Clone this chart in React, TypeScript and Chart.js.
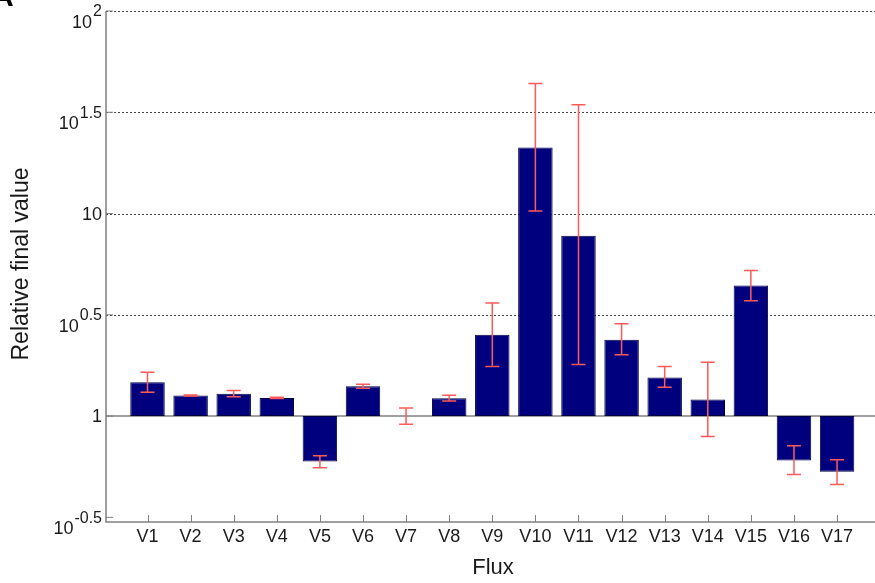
import React, { useEffect, useRef } from "react";
import { Chart, registerables } from "chart.js";

Chart.register(...registerables);

const categories = ["V1", "V2", "V3", "V4", "V5", "V6", "V7", "V8", "V9", "V10", "V11", "V12", "V13", "V14", "V15", "V16", "V17"];
const values = [1.469, 1.262, 1.291, 1.23, 0.596, 1.403, 1.0, 1.225, 2.52, 21.2, 7.78, 2.38, 1.552, 1.208, 4.41, 0.604, 0.531];
const errLow = [1.312, 1.255, 1.245, 1.222, 0.556, 1.371, 0.912, 1.186, 1.758, 10.3, 1.8, 2.01, 1.387, 0.792, 3.71, 0.515, 0.46];
const errHigh = [1.644, 1.27, 1.337, 1.24, 0.637, 1.435, 1.096, 1.268, 3.62, 43.9, 34.4, 2.86, 1.758, 1.845, 5.24, 0.713, 0.608];

const yTickValues = [Math.pow(10, -0.5), 1, Math.pow(10, 0.5), 10, Math.pow(10, 1.5), 100];
const yTickBase = ["10", "1", "10", "10", "10", "10"];
const yTickSup = ["-0.5", "", "0.5", "", "1.5", "2"];

const xTitle = "Flux";
const yTitle = "Relative final value";

const FONT = "'Liberation Sans', Arial, sans-serif";
const TEXT = "#1a1a1a";
const AXIS = "#808080";

const decor = {
  id: "decor",
  beforeDatasetsDraw(chart: any) {
    const { ctx, chartArea, scales } = chart;
    const y = scales.y;
    ctx.save();
    ctx.strokeStyle = "#444";
    ctx.lineWidth = 1;
    ctx.setLineDash([2, 2]);
    yTickValues.forEach((v, i) => {
      if (i < 2) return;
      const py = Math.round(y.getPixelForValue(v)) + 0.5;
      ctx.beginPath();
      ctx.moveTo(chartArea.left, py);
      ctx.lineTo(chartArea.right, py);
      ctx.stroke();
    });
    ctx.setLineDash([]);
    const by = y.getPixelForValue(1);
    ctx.strokeStyle = AXIS;
    ctx.lineWidth = 1.5;
    ctx.beginPath();
    ctx.moveTo(chartArea.left, by);
    ctx.lineTo(chartArea.right, by);
    ctx.stroke();
    ctx.restore();
  },
  afterDatasetsDraw(chart: any) {
    const { ctx, chartArea, scales } = chart;
    const x = scales.x;
    const y = scales.y;
    ctx.save();
    // error bars
    ctx.strokeStyle = "#ff5a5a";
    ctx.lineWidth = 1.5;
    const cap = 7;
    categories.forEach((_, i) => {
      const px = x.getPixelForValue(i + 1);
      const pl = y.getPixelForValue(errLow[i]);
      const ph = y.getPixelForValue(errHigh[i]);
      ctx.beginPath();
      ctx.moveTo(px, pl);
      ctx.lineTo(px, ph);
      ctx.moveTo(px - cap, pl);
      ctx.lineTo(px + cap, pl);
      ctx.moveTo(px - cap, ph);
      ctx.lineTo(px + cap, ph);
      ctx.stroke();
    });
    // axes
    ctx.strokeStyle = AXIS;
    ctx.lineWidth = 1.5;
    ctx.beginPath();
    ctx.moveTo(chartArea.left, chartArea.top);
    ctx.lineTo(chartArea.left, chartArea.bottom);
    ctx.lineTo(chartArea.right, chartArea.bottom);
    ctx.stroke();
    ctx.lineWidth = 1;
    categories.forEach((_, i) => {
      const px = Math.round(x.getPixelForValue(i + 1)) + 0.5;
      ctx.beginPath();
      ctx.moveTo(px, chartArea.bottom);
      ctx.lineTo(px, chartArea.bottom - 7);
      ctx.stroke();
    });
    yTickValues.forEach((v) => {
      const py = y.getPixelForValue(v);
      ctx.beginPath();
      ctx.moveTo(chartArea.left, py);
      ctx.lineTo(chartArea.left + 7, py);
      ctx.stroke();
    });
    // x labels
    ctx.fillStyle = TEXT;
    ctx.font = `18px ${FONT}`;
    ctx.textAlign = "center";
    ctx.textBaseline = "middle";
    categories.forEach((c, i) => {
      ctx.fillText(c, x.getPixelForValue(i + 1), chartArea.bottom + 15);
    });
    // y labels
    const right = chartArea.left - 4;
    yTickValues.forEach((v, i) => {
      const py = y.getPixelForValue(v);
      ctx.textAlign = "right";
      ctx.textBaseline = "middle";
      if (yTickSup[i]) {
        ctx.font = `16px ${FONT}`;
        const w = ctx.measureText(yTickSup[i]).width;
        ctx.fillText(yTickSup[i], right, py + 1);
        ctx.font = `18px ${FONT}`;
        ctx.fillText(yTickBase[i], right - w - 1, py + 12);
      } else {
        ctx.font = `18px ${FONT}`;
        ctx.fillText(yTickBase[i], right, py + 1);
      }
    });
    // titles
    ctx.font = `22px ${FONT}`;
    ctx.textAlign = "center";
    ctx.textBaseline = "middle";
    ctx.fillText(xTitle, 493, 568);
    ctx.save();
    ctx.translate(22, 264);
    ctx.rotate(-Math.PI / 2);
    ctx.font = `23px ${FONT}`;
    ctx.fillText(yTitle, 0, 0);
    ctx.restore();
    ctx.font = `bold 30px ${FONT}`;
    ctx.textAlign = "left";
    ctx.textBaseline = "alphabetic";
    ctx.fillStyle = "#000";
    ctx.fillText("A", -8, 6);
    ctx.restore();
  },
};

export default function App() {
  const ref = useRef<HTMLCanvasElement | null>(null);
  useEffect(() => {
    document.body.style.margin = "0";
    const canvas = ref.current;
    if (!canvas) return;
    const chart = new Chart(canvas, {
      type: "bar",
      data: {
        datasets: [
          {
            data: values.map((v, i) => ({ x: i + 1, y: [1, v] })) as any,
            backgroundColor: "#00007f",
            borderColor: "#000040",
            borderWidth: 1,
            borderSkipped: false,
            categoryPercentage: 0.8,
            barPercentage: 1,
          },
        ],
      },
      options: {
        animation: false,
        responsive: false,
        maintainAspectRatio: false,
        layout: { padding: { left: 106, top: 11, right: 0, bottom: 61 } },
        plugins: { legend: { display: false }, tooltip: { enabled: false } },
        scales: {
          x: { type: "linear", min: 0.037, max: 17.88, offset: false, display: false },
          y: { type: "logarithmic", min: Math.pow(10, -0.5), max: 100, display: false },
        },
      },
      plugins: [decor],
    });
    return () => chart.destroy();
  }, []);
  return (
    <div style={{ position: "absolute", left: 0, top: 0, width: 875, height: 583, background: "#fff" }}>
      <canvas ref={ref} width={875} height={583} style={{ width: 875, height: 583, display: "block" }} />
    </div>
  );
}
